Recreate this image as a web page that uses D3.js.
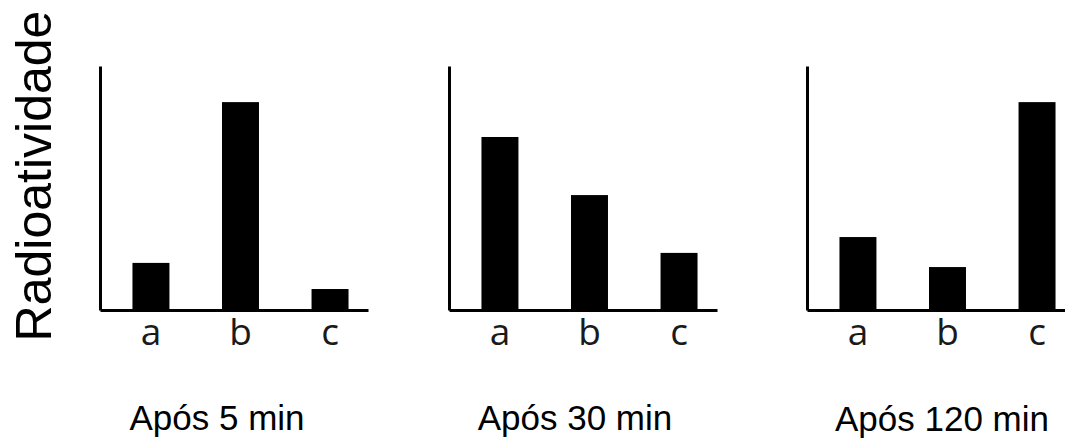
<!DOCTYPE html>
<html>
<head>
<meta charset="utf-8">
<script src="https://cdn.jsdelivr.net/npm/d3@7"></script>
<style>
  html, body { margin: 0; padding: 0; background: #fff; }
  svg { display: block; }
</style>
</head>
<body>
<svg id="chart" width="1065" height="439"></svg>
<script>
// ---- data ----
const categories = ["a", "b", "c"];
const panelTitles = ["Após 5 min", "Após 30 min", "Após 120 min"];
const values5 = [19.3, 85.2, 8.6];
const values30 = [70.9, 47.1, 23.4];
const values120 = [29.9, 17.6, 85.2];
const yAxisLabel = "Radioatividade";
const yMax = 100;

// ---- layout ----
const svg = d3.select("#chart");
const baseY = 310, topY = 66;
const panelX = [100, 449, 807];
const panelW = 268;
const titleX = [217, 575, 942];
const titleY = [430, 430, 431];
const series = [values5, values30, values120];

const y = d3.scaleLinear().domain([0, yMax]).range([baseY, topY]);

series.forEach((vals, i) => {
  const x0 = panelX[i];
  const x = d3.scaleBand()
    .domain(categories)
    .range([x0, x0 + panelW])
    .paddingInner(0.587)
    .paddingOuter(0.29)
    .align(0.625);

  const g = svg.append("g");

  // bars
  g.selectAll("rect")
    .data(categories.map((c, k) => ({ c, v: vals[k] })))
    .join("rect")
    .attr("x", d => x(d.c))
    .attr("y", d => y(d.v))
    .attr("width", x.bandwidth())
    .attr("height", d => baseY - y(d.v))
    .attr("fill", "#000");

  // x axis
  const xa = g.append("g")
    .attr("transform", `translate(0,${baseY})`)
    .call(d3.axisBottom(x).tickSize(0).tickSizeOuter(0).tickPadding(9));
  xa.select(".domain").attr("stroke", "#000").attr("stroke-width", 3);
  xa.selectAll("text")
    .attr("font-family", "'Open Sans', sans-serif")
    .attr("font-size", 37)
    .attr("fill", "#1a1a1a");

  // y axis
  const ya = g.append("g")
    .attr("transform", `translate(${x0},0)`)
    .call(d3.axisLeft(y).tickValues([]).tickSizeOuter(0));
  ya.select(".domain").attr("stroke", "#000").attr("stroke-width", 3);

  // title
  svg.append("text")
    .attr("x", titleX[i])
    .attr("y", titleY[i])
    .attr("text-anchor", "middle")
    .attr("font-family", "'Liberation Sans', Arial, sans-serif")
    .attr("font-size", 35)
    .attr("fill", "#000")
    .text(panelTitles[i]);
});

// y axis label
svg.append("text")
  .attr("transform", "translate(51,176) rotate(-90)")
  .attr("text-anchor", "middle")
  .attr("font-family", "'Liberation Sans', Arial, sans-serif")
  .attr("font-size", 50)
  .attr("fill", "#000")
  .text(yAxisLabel);
</script>
</body>
</html>
